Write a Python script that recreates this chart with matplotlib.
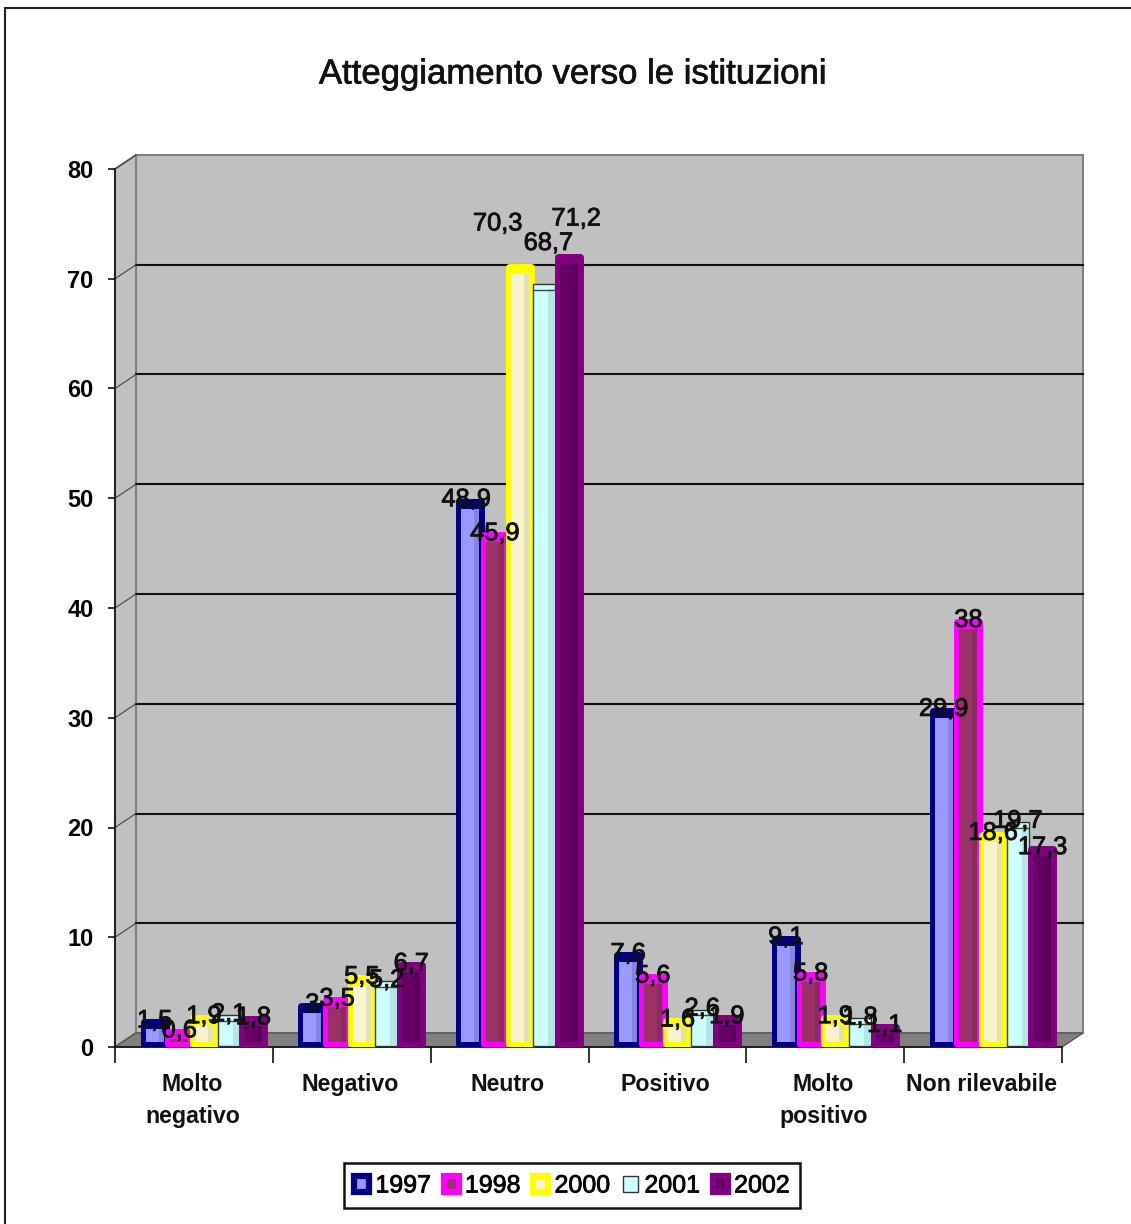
import matplotlib
matplotlib.use('Agg')
import matplotlib.pyplot as plt
from matplotlib.patches import Rectangle, Polygon, Patch
import matplotlib.patheffects as pe

plt.rcParams['font.family'] = ['Liberation Sans', 'DejaVu Sans']

# Data
categories = ['Molto\nnegativo', 'Negativo', 'Neutro', 'Positivo', 'Molto\npositivo', 'Non rilevabile']
years = ['1997', '1998', '2000', '2001', '2002']
v1997 = [1.5, 3, 48.9, 7.6, 9.1, 29.9]
v1998 = [0.6, 3.5, 45.9, 5.6, 5.8, 38]
v2000 = [1.9, 5.5, 70.3, 1.6, 1.9, 18.6]
v2001 = [2.1, 5.2, 68.7, 2.6, 1.8, 19.7]
v2002 = [1.8, 6.7, 71.2, 1.9, 1.1, 17.3]
series = [v1997, v1998, v2000, v2001, v2002]

# Colours: border, face, darker right side
edge_cols = ['#000080', '#FF00FF', '#FFFF00', '#333333', '#800080']
face_cols = ['#9999FF', '#993366', '#F6F3CE', '#CCFFFF', '#660066']
side_cols = ['#8585E0', '#85305A', '#E4E1B8', '#B5E6E6', '#570057']

W, H = 1131, 1224
fig = plt.figure(figsize=(W / 100, H / 100), dpi=100, facecolor='white')
ax = fig.add_axes([115 / W, 1 - 1047 / H, (1062 - 115) / W, (1047 - 169) / H])
ax.set_xlim(0, 6)
ax.set_ylim(0, 80)
ax.patch.set_visible(False)

# one pixel in data units
px = 6 / (1062 - 115)
py = 80 / (1047 - 169)
dx, dy = 21 * px, 14 * py

# outer frame of the picture
fig.add_artist(Rectangle((5 / W, -0.01), (W + 10) / W, 1 - 8 / H + 0.01, transform=fig.transFigure,
                         fill=False, edgecolor='#222222', linewidth=1.5))

# walls and floor
ax.add_patch(Rectangle((dx, dy), 6, 80, facecolor='#C0C0C0', edgecolor='#808080',
                       linewidth=1.5, clip_on=False, zorder=0))
ax.add_patch(Polygon([(0, 0), (dx, dy), (dx, 80 + dy), (0, 80)], closed=True, facecolor='#C0C0C0',
                     edgecolor='#808080', linewidth=1.5, clip_on=False, zorder=0))
ax.add_patch(Polygon([(0, 0), (dx, dy), (6 + dx, dy), (6, 0)], closed=True, facecolor='#808080',
                     edgecolor='#555555', linewidth=1, clip_on=False, zorder=0.5))

for v in range(10, 80, 10):
    ax.plot([dx, 6 + dx], [v + dy, v + dy], color='#111111', linewidth=1.5, clip_on=False, zorder=1)
for v in range(10, 90, 10):
    ax.plot([0, dx], [v, v + dy], color='#444444', linewidth=0.8, clip_on=False, zorder=1)

# bars
step = 24.7 * px
shift = 10 * px
for j, vals in enumerate(series):
    for i, v in enumerate(vals):
        x = i + 0.5 + shift + (j - 2) * step
        if j == 3:
            # the 2001 series is thin lined, not a thick border
            w = 22 * px
            ax.bar(x, v + 0.7, width=w, color=face_cols[j], edgecolor=edge_cols[j], linewidth=1,
                   bottom=0.1, zorder=3 + j)
            ax.bar(x + w * 0.33, v + 0.2, width=w * 0.3, color=side_cols[j], linewidth=0,
                   bottom=0.2, zorder=3 + j)
            ax.plot([x - w / 2, x + w / 2], [v + 0.3, v + 0.3], color='#444444', linewidth=1, zorder=3 + j)
        else:
            w = 22 * px
            ax.bar(x, v + 0.45, width=w, bottom=0.3, color=edge_cols[j], edgecolor=edge_cols[j], linewidth=5,
                   joinstyle='round', zorder=3 + j)
            inner = v - 0.4
            if inner > 0:
                ax.bar(x, inner, width=18 * px, bottom=0.5, color=face_cols[j], linewidth=0, zorder=3 + j)
                ax.bar(x + 6.5 * px, inner, width=5 * px, bottom=0.5, color=side_cols[j], linewidth=0, zorder=3 + j)

# labels moved by hand in the original
label_shift = {(0, 2): (-4, 11), (2, 2): (-22, 52), (3, 2): (4, 50), (4, 2): (7, 47)}
for j, vals in enumerate(series):
    for i, v in enumerate(vals):
        x = i + 0.5 + shift + (j - 2) * step
        off = label_shift.get((j, i), (0, 10))
        t = ax.annotate(f'{v:g}'.replace('.', ','), (x, v), xytext=off, textcoords='offset pixels',
                        ha='center', va='center', fontsize=18.3, color='#111111', zorder=20,
                        annotation_clip=False)
        t.set_path_effects([pe.withStroke(linewidth=0.6, foreground='#111111')])

# axes
for s in ['top', 'right']:
    ax.spines[s].set_visible(False)
for s in ['left', 'bottom']:
    ax.spines[s].set_linewidth(1.2)
    ax.spines[s].set_color('#111111')
    ax.spines[s].set_zorder(2)
ax.set_yticks(range(0, 90, 10))
ax.tick_params(axis='y', length=5, width=1.2, pad=10.5, labelsize=17, color='#111111')
for lab in ax.get_yticklabels():
    lab.set_fontweight('bold')
ax.set_xticks(range(0, 7))
ax.set_xticklabels([])
ax.tick_params(axis='x', which='major', length=11.5, width=1.2, color='#111111')
ax.set_xticks([i + 0.49 for i in range(6)], minor=True)
ax.set_xticklabels(categories, minor=True, fontsize=16.7, fontweight='bold', linespacing=1.5, color='#111111')
ax.tick_params(axis='x', which='minor', length=0, pad=18.5)

title = fig.text(573 / W, 1 - 74 / H, 'Atteggiamento verso le istituzioni', ha='center', va='center',
                 fontsize=25, color='#111111')
title.set_path_effects([pe.withStroke(linewidth=0.5, foreground='#111111')])

# legend
handles = [Patch(facecolor=face_cols[k], edgecolor=edge_cols[k], linewidth=1 if k == 3 else 4.5)
           for k in range(5)]
leg = fig.legend(handles, years, ncol=5, loc='center', bbox_to_anchor=(572 / W, 1 - 1185.5 / H),
                 fontsize=18, frameon=True, fancybox=False, edgecolor='#111111', framealpha=1,
                 handlelength=0.6, handleheight=0.6, handletextpad=0.25, columnspacing=0.51,
                 borderpad=0.42, borderaxespad=0)
leg.get_frame().set_linewidth(1.8)
for t in leg.get_texts():
    t.set_path_effects([pe.withStroke(linewidth=0.6, foreground='#111111')])

fig.savefig('out.png', dpi=100)
